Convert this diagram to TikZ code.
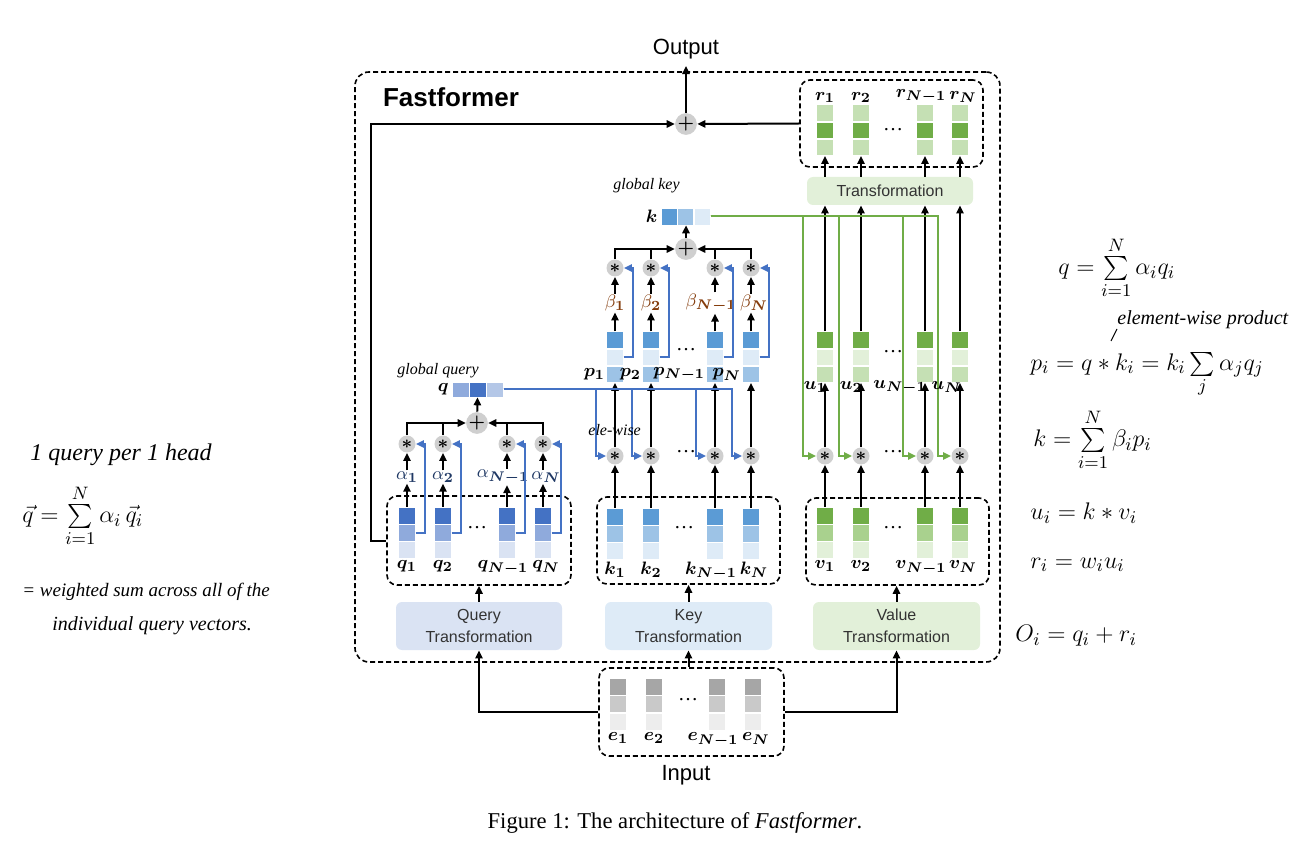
\documentclass[tikz,border=0pt]{standalone}
\usepackage{fontspec}
\usepackage{amsmath}
\usepackage{bm}
\setmainfont{Liberation Serif}
\newfontfamily\diagfont{Liberation Sans}
\usetikzlibrary{positioning,arrows.meta}

\definecolor{qdark}{HTML}{4472C4}
\definecolor{qmid}{HTML}{8FAADC}
\definecolor{qlight}{HTML}{DAE3F3}
\definecolor{qhl}{HTML}{B4C7E7}
\definecolor{kdark}{HTML}{5B9BD5}
\definecolor{kmid}{HTML}{9DC3E6}
\definecolor{klight}{HTML}{DEEBF7}
\definecolor{vdark}{HTML}{70AD47}
\definecolor{vmid}{HTML}{A9D18E}
\definecolor{vlight}{HTML}{E2F0D9}
\definecolor{vhl}{HTML}{C5E0B4}
\definecolor{edark}{HTML}{A6A6A6}
\definecolor{emid}{HTML}{C9C9C9}
\definecolor{elight}{HTML}{EDEDED}
\definecolor{opgray}{HTML}{CFCFCF}
\definecolor{alphacol}{HTML}{1F3864}
\definecolor{betacol}{HTML}{843C0C}

\tikzset{
  cell/.style={draw=white, line width=0.3pt, inner sep=0pt, minimum width=8.3pt, minimum height=8.3pt},
  op/.style={circle, fill=opgray, inner sep=0pt, minimum size=8.5pt, font=\fontsize{9}{9}\selectfont},
  grp/.style={draw, line width=0.8pt, dash pattern=on 2.5pt off 1.5pt, rounded corners=5pt, inner sep=0pt},
  trans/.style={rounded corners=3pt, inner sep=0pt, align=center, text=black!80, font=\diagfont\fontsize{8}{11}\selectfont},
  arr/.style={line width=1pt, -{Triangle[length=4pt,width=3.6pt]}},
  barr/.style={arr, draw=qdark},
  garr/.style={arr, draw=vdark},
  lbl/.style={inner sep=0.5pt, font=\fontsize{9.5}{9.5}\selectfont},
  hand/.style={inner sep=0pt, anchor=west, font=\itshape\fontsize{8}{9}\selectfont},
  note/.style={inner sep=0pt, anchor=west, font=\itshape\fontsize{12}{14}\selectfont},
}

\begin{document}
\begin{tikzpicture}[x=0.5pt, y=-0.5pt]
\useasboundingbox (0,0) rectangle (1313,861);

% frame and groups
\node[grp, rounded corners=7pt, minimum width=322.5pt, minimum height=295pt] (frame) at (677.5,367) {};
\node[anchor=west, font=\diagfont\bfseries\fontsize{13}{13}\selectfont] (title) at (376,97) {Fastformer};
\node[grp, minimum width=92pt, minimum height=44.5pt] (qbox) at (479,540.5) {};
\node[grp, minimum width=91.5pt, minimum height=43.5pt] (kbox) at (688.5,540.5) {};
\node[grp, minimum width=91.5pt, minimum height=43.5pt] (vbox) at (897.5,541.5) {};
\node[grp, minimum width=91.5pt, minimum height=43.5pt] (rbox) at (891.5,123.5) {};
\node[grp, minimum width=92.5pt, minimum height=44pt] (ibox) at (691.5,712) {};

% transformations
\node[trans, fill=qlight, minimum width=83pt, minimum height=24pt] (qtr) at (479,626) {Query\\Transformation};
\node[trans, fill=klight, minimum width=83.5pt, minimum height=24pt] (ktr) at (688.5,626) {Key\\Transformation};
\node[trans, fill=vlight, minimum width=83.5pt, minimum height=24pt] (vtr) at (896.5,626) {Value\\Transformation};
\node[trans, fill=vlight, minimum width=83pt, minimum height=14pt] (tr) at (890,191) {Transformation};

% input and output
\node[font=\diagfont\fontsize{11}{11}\selectfont] (out) at (686,49) {Output};
\node[font=\diagfont\fontsize{11}{11}\selectfont] (in) at (686,775) {Input};
\node[op] (oplus) at (686,124) {$\bm{+}$};

\foreach \i/\x/\lab/\dx in {1/618/1/0,2/654/2/0,3/717/N-1/-2,4/753/N/1.5} {
  \node[cell, minimum height=8.5pt, fill=edark] (ea\i) at (\x,686.5) {};
  \node[cell, minimum height=8.5pt, fill=emid, below=0pt of ea\i] (eb\i) {};
  \node[cell, minimum height=8.5pt, fill=elight, below=0pt of eb\i] (ec\i) {};
  \node[lbl, below=0.5pt of ec\i, xshift=\dx pt] (el\i) {$\bm{e_{\lab}}$};
}
\node (edots) at (688,700) {\dots};

% query side
\foreach \i/\x/\lab/\dx in {1/407/1/0,2/443/2/0,3/507/N-1/-2,4/543/N/1.5} {
  \node[cell, fill=qdark] (qa\i) at (\x,515.5) {};
  \node[cell, fill=qmid, below=0pt of qa\i] (qb\i) {};
  \node[cell, fill=qlight, below=0pt of qb\i] (qc\i) {};
  \node[lbl, below=0.5pt of qc\i, xshift=\dx pt] (ql\i) {$\bm{q_{\lab}}$};
  \node[lbl, text=alphacol, xshift=\dx pt] (al\i) at (\x,477) {$\alpha_{\bm{\lab}}$};
  \node[op] (qs\i) at (\x,444) {$\bm{*}$};
  \draw[arr] (qa\i) -- (qa\i |- al\i.south);
  \draw[arr] (qs\i |- al\i.north) -- (qs\i);
  \draw[barr] (qb\i.east) -- ++(4.5pt,0) |- (qs\i.east);
}
\node (qdots) at (477,528) {\dots};
\node[op] (qplus) at (477,423) {$\bm{+}$};
\draw[arr] (qs1.north) |- (qplus.west);
\draw[arr] (qs4.north) |- (qplus.east);
\draw[line width=1pt] (qs2.north) -- (qs2.north |- qplus);
\draw[line width=1pt] (qs3.north) -- (qs3.north |- qplus);
\node[cell, minimum height=7.5pt, fill=qmid] (gq1) at (460.5,389.5) {};
\node[cell, minimum height=7.5pt, fill=qdark, right=0pt of gq1] (gq2) {};
\node[cell, minimum height=7.5pt, fill=qhl, right=0pt of gq2] (gq3) {};
\node[lbl, left=1pt of gq1] (gql) {$\bm{q}$};
\node[hand] (gqn) at (397,371) {global query};
\draw[arr] (qplus) -- (gq2);

% key side
\foreach \i/\x/\lab/\dx in {1/615/1/0,2/651/2/0,3/715/N-1/-2,4/751/N/1.5} {
  \node[cell, fill=kdark] (ka\i) at (\x,516.5) {};
  \node[cell, fill=kmid, below=0pt of ka\i] (kb\i) {};
  \node[cell, fill=klight, below=0pt of kb\i] (kc\i) {};
  \node[lbl, below=0.5pt of kc\i, xshift=\dx pt] (kl\i) {$\bm{k_{\lab}}$};
  \node[op] (ks\i) at (\x,456) {$\bm{*}$};
  \draw[arr] (ka\i) -- (ks\i);
  \draw[barr] (gq3.east) -| ([xshift=-5.25pt]ks\i.west) -- (ks\i.west);
  \node[cell, fill=kdark] (pa\i) at (\x,340) {};
  \node[cell, fill=klight, below=0pt of pa\i] (pb\i) {};
  \node[cell, fill=kmid, below=0pt of pb\i] (pc\i) {};
  \node[lbl, left=0pt of pc\i] (pl\i) {$\bm{p_{\lab}}$};
  \draw[arr] (ks\i) -- (pc\i);
  \node[lbl, text=betacol, xshift=\dx pt] (bl\i) at (\x,303) {$\beta_{\bm{\lab}}$};
  \node[op] (ps\i) at (\x,268) {$\bm{*}$};
  \draw[arr] (pa\i) -- (pa\i |- bl\i.south);
  \draw[arr] (ps\i |- bl\i.north) -- (ps\i);
  \draw[barr] (pb\i.east) -- ++(4.5pt,0) |- (ps\i.east);
}
\node (kdots) at (684,528) {\dots};
\node (ksdots) at (686,452) {\dots};
\node (pdots) at (686,350) {\dots};
\node[hand] (eln) at (588,430) {ele-wise};
\node[op] (kplus) at (686,249) {$\bm{+}$};
\draw[arr] (ps1.north) |- (kplus.west);
\draw[arr] (ps4.north) |- (kplus.east);
\draw[line width=1pt] (ps2.north) -- (ps2.north |- kplus);
\draw[line width=1pt] (ps3.north) -- (ps3.north |- kplus);
\node[cell, minimum width=8pt, minimum height=8.5pt, fill=kdark] (kv1) at (669,216.5) {};
\node[cell, minimum width=8pt, minimum height=8.5pt, fill=kmid, right=0pt of kv1] (kv2) {};
\node[cell, minimum width=8pt, minimum height=8.5pt, fill=klight, right=0pt of kv2] (kv3) {};
\node[lbl, left=1pt of kv1] (kvl) {$\bm{k}$};
\node[hand] (gkn) at (613,186) {global key};
\draw[arr] (kplus) -- (kplus |- kv2.south);

% value side
\foreach \i/\x/\lab/\dx in {1/825/1/0,2/861/2/0,3/925/N-1/-2,4/960/N/1.5} {
  \node[cell, fill=vdark] (va\i) at (\x,515.5) {};
  \node[cell, fill=vmid, below=0pt of va\i] (vb\i) {};
  \node[cell, fill=vlight, below=0pt of vb\i] (vc\i) {};
  \node[lbl, below=0.5pt of vc\i, xshift=\dx pt] (vl\i) {$\bm{v_{\lab}}$};
  \node[op] (vs\i) at (\x,456) {$\bm{*}$};
  \draw[arr] (va\i) -- (vs\i);
  \draw[garr] (kv3.east) -| ([xshift=-6.75pt]vs\i.west) -- (vs\i.west);
  \node[cell, fill=vdark] (ua\i) at (\x,340) {};
  \node[cell, fill=vlight, below=0pt of ua\i] (ub\i) {};
  \node[cell, fill=vhl, below=0pt of ub\i] (uc\i) {};
  \node[lbl, anchor=east] (ul\i) at (\x+3,387) {$\bm{u_{\lab}}$};
  \draw[arr] (vs\i) -- (uc\i);
  \draw[arr] (ua\i) -- (ua\i |- tr.south);
  \node[cell, fill=vhl] (ra\i) at (\x,113) {};
  \node[cell, fill=vdark, below=0pt of ra\i] (rb\i) {};
  \node[cell, fill=vhl, below=0pt of rb\i] (rc\i) {};
  \node[lbl, above=0pt of ra\i, xshift=\dx pt] (rl\i) {$\bm{r_{\lab}}$};
  \draw[arr] (ua\i |- tr.north) -- (rc\i);
}
\node (vdots) at (893,528) {\dots};
\node (vsdots) at (893,452) {\dots};
\node (udots) at (893,352) {\dots};
\node (rdots) at (893,130) {\dots};

% connections
\draw[arr] (oplus) -- (out);
\draw[arr] (rbox.west) -- (oplus.east);
\draw[arr] (qbox.west) -- ++(-7.5pt,0) |- (oplus.west);
\draw[arr] (qtr) -- (qbox);
\draw[arr] (ktr) -- (kbox);
\draw[arr] (vtr.north) -- (vtr.north |- vbox.south);
\draw[arr] (ktr.south |- ibox.north) -- (ktr.south);
\draw[arr] (ibox.west) -| (qtr.south);
\draw[arr] (ibox.east) -| (vtr.south);

% caption
\node[font=\fontsize{11.3}{13}\selectfont] (cap) at (675,823) {Figure 1: The architecture of \textit{Fastformer}.};

% notes
\node[note] (n1) at (30,455) {1 query per 1 head};
\node[note, font=\itshape\fontsize{13}{15}\selectfont] (n2) at (22,516) {$\vec{q} = \sum\limits_{i=1}^{N} \alpha_i\, \vec{q}_i$};
\node[note, font=\itshape\fontsize{9.5}{11}\selectfont] (n3) at (22,592) {= weighted sum across all of the};
\node[note, font=\itshape\fontsize{10}{11}\selectfont] (n4) at (52,626) {individual query vectors.};
\node[note, font=\itshape\fontsize{13}{15}\selectfont] (n5) at (1058,268) {$q = \sum\limits_{i=1}^{N} \alpha_i q_i$};
\node[note, font=\itshape\fontsize{10}{12}\selectfont] (n6) at (1117,320) {element-wise product};
\draw[line width=0.5pt] (1117,329) -- (1111,341);
\node[note, font=\itshape\fontsize{13}{15}\selectfont] (n7) at (1030,375) {$p_i = q * k_i = k_i \sum\limits_j \alpha_j q_j$};
\node[note, font=\itshape\fontsize{13}{15}\selectfont] (n8) at (1033,440) {$k = \sum\limits_{i=1}^{N} \beta_i p_i$};
\node[note, font=\itshape\fontsize{13}{15}\selectfont] (n9) at (1030,513) {$u_i = k * v_i$};
\node[note, font=\itshape\fontsize{13}{15}\selectfont] (n10) at (1030,565) {$r_i = w_i u_i$};
\node[note, font=\itshape\fontsize{13}{15}\selectfont] (n11) at (1015,636) {$O_i = q_i + r_i$};
\end{tikzpicture}
\end{document}
